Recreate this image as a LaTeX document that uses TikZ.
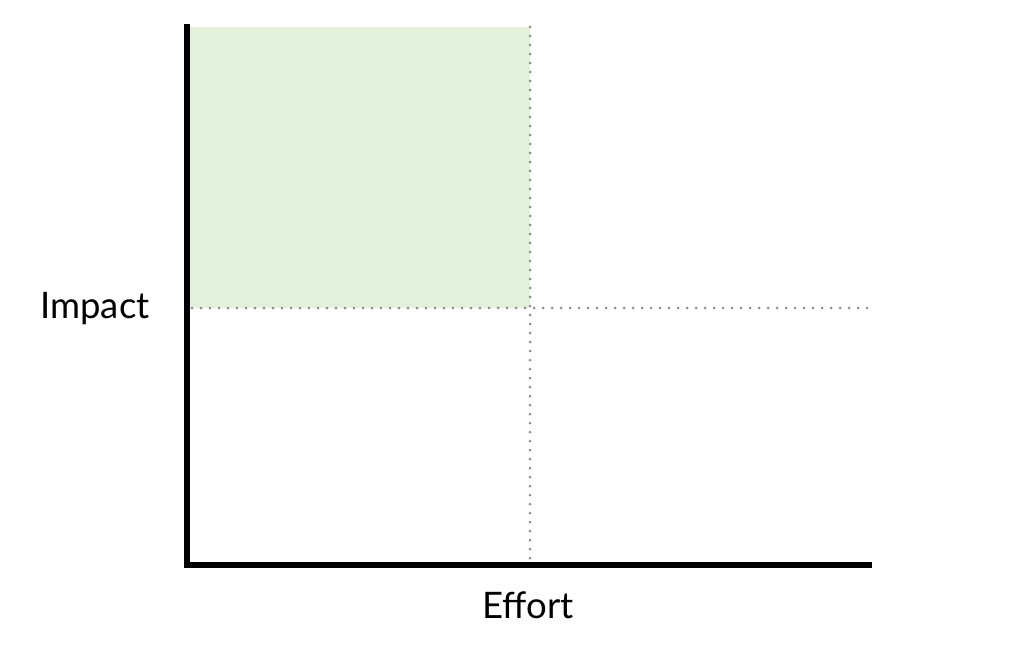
\documentclass[tikz,border=0pt]{standalone}
\usepackage{fontspec}
\setmainfont{Lato}
\definecolor{quadgreen}{HTML}{E2F0DC}
\definecolor{dotgray}{HTML}{8E8E8E}
\tikzset{
  axisline/.style={line width=6pt, black, line cap=rect},
  dotline/.style={line width=3pt, dotgray, line cap=round, dash pattern=on 0pt off 9pt},
  lbl/.style={font=\fontsize{36.5}{44}\selectfont, inner sep=0pt}
}
\begin{document}
\begin{tikzpicture}[x=1pt,y=-1pt]
\useasboundingbox (0,0) rectangle (1024,654);
\fill[quadgreen] (189,27) rectangle (530,308);
\coordinate (top) at (186.5,27);
\coordinate (origin) at (186.5,565);
\coordinate (right) at (869,565);
\coordinate (hl) at (192,308);
\coordinate (hr) at (872,308);
\coordinate (vt) at (530,27);
\coordinate (vb) at (530,560);
\draw[dotline] (hl) -- (hr);
\draw[dotline] (vt) -- (vb);
\draw[axisline] (top) -- (origin) -- (right);
\node[lbl] (impact) at (95,309) {Impact};
\node[lbl] (effort) at (528,605) {Effort};
\end{tikzpicture}
\end{document}
